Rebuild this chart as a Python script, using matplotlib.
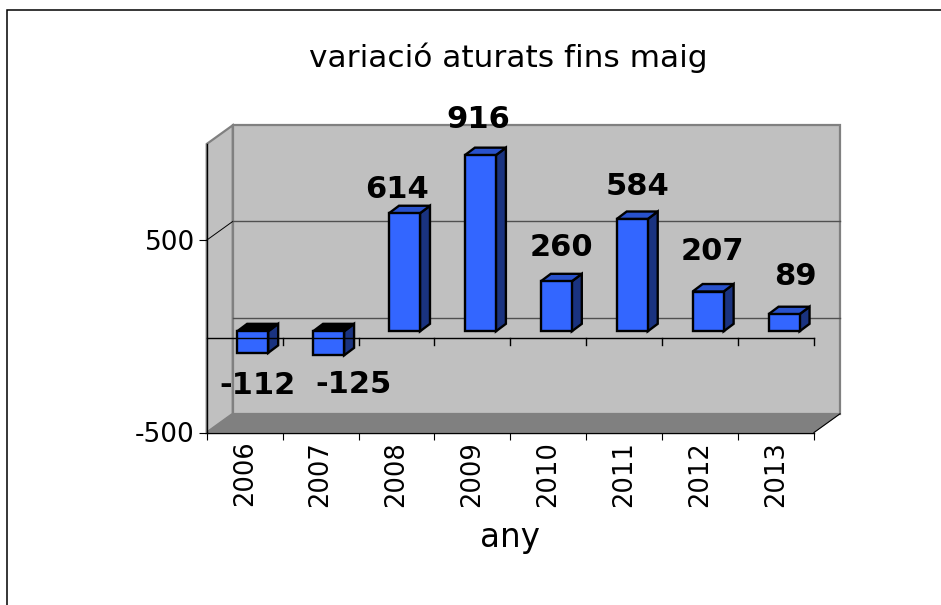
import matplotlib
matplotlib.use("Agg")
import matplotlib.pyplot as plt
from matplotlib.patches import Polygon, Rectangle
from matplotlib.transforms import IdentityTransform
import numpy as np

years = ["2006", "2007", "2008", "2009", "2010", "2011", "2012", "2013"]
values = [-112, -125, 614, 916, 260, 584, 207, 89]
title = "variació aturats fins maig"
xlabel = "any"
yticks = [-500, 500]

# label offsets from the bar end, in pixels (x, up)
label_dx = [-3, 17, -15, -10, -3, -3, -4, 3]
label_dy = [-26, -22, 31, 43, 41, 40, 47, 45]

W, H = 941, 605
fig = plt.figure(figsize=(W / 100, H / 100), dpi=100, facecolor="white")
plt.rcParams["font.family"] = "DejaVu Sans"


def fx(px):
    return px / W


def fy(py):
    return 1 - py / H


ax = fig.add_axes([fx(206.7), fy(432.5), fx(814) - fx(206.7), fy(144) - fy(432.5)])
ax.set_xlim(0, 8)
ax.set_ylim(-500, 1000)
ax.patch.set_visible(False)
fig.canvas.draw()


def project(x, v, dx=0.0, dy=0.0):
    """Data point moved along the depth direction, in pixels (dy up)."""
    px, py = ax.transData.transform((x, v))
    return (px + dx, py + dy)


def poly(points, z, **kw):
    p = Polygon(points, closed=True, transform=IdentityTransform(), clip_on=False, zorder=z, **kw)
    fig.add_artist(p)
    return p


def seg(a, b, z, color="black", lw=1.0):
    ln = plt.Line2D([a[0], b[0]], [a[1], b[1]], transform=IdentityTransform(), color=color, lw=lw, zorder=z)
    fig.add_artist(ln)


# outer chart frame
fig.add_artist(Rectangle((7.2, -20), W + 40, H + 20 - 10, transform=IdentityTransform(),
                         fill=False, ec="black", lw=1.1, zorder=0))

DX, DY = 26, 18.7
WALL, FLOOR, EDGE = "#C0C0C0", "#808080", "#808080"
vmin, vmax = -500, 1000
# back wall, left wall, floor
poly([project(0, vmin, DX, DY), project(8, vmin, DX, DY), project(8, vmax, DX, DY), project(0, vmax, DX, DY)],
     1, fc=WALL, ec=EDGE, lw=1.6)
poly([project(0, vmin), project(0, vmin, DX, DY), project(0, vmax, DX, DY), project(0, vmax)],
     1, fc=WALL, ec=EDGE, lw=1.6)
poly([project(0, vmin), project(8, vmin), project(8, vmin, DX, DY), project(0, vmin, DX, DY)],
     1, fc=FLOOR, ec=FLOOR, lw=0.5)
seg(project(8, vmin), project(8, vmin, DX, DY), 2, "black", 0.8)

# gridlines on the walls
seg(project(0, 500), project(0, 500, DX, DY), 2, "black", 0.7)
for v in [0, 500]:
    seg(project(0, v, DX, DY), project(8, v, DX, DY), 2, "#505050", 1.0)

# bars
BAR_W = 31 / ((814 - 206.7) / 8)
OFF_X, OFF_Y = 8, 5
BDX, BDY = 10, 7.5
FRONT, TOP, SIDE = "#3366FF", "#2952CC", "#1A3380"
for i, v in enumerate(values):
    x0 = i + 0.5 - BAR_W / 2
    x1 = i + 0.5 + BAR_W / 2
    hi, lo = max(v, 0), min(v, 0)
    z = 3
    kw = dict(ec="black", lw=1.7, joinstyle="miter")
    poly([project(x1, lo, OFF_X, OFF_Y), project(x1, lo, OFF_X + BDX, OFF_Y + BDY),
          project(x1, hi, OFF_X + BDX, OFF_Y + BDY), project(x1, hi, OFF_X, OFF_Y)], z, fc=SIDE, **kw)
    poly([project(x0, hi, OFF_X, OFF_Y), project(x1, hi, OFF_X, OFF_Y),
          project(x1, hi, OFF_X + BDX, OFF_Y + BDY), project(x0, hi, OFF_X + BDX, OFF_Y + BDY)],
         z, fc="black" if v < 0 else TOP, **kw)
    poly([project(x0, lo, OFF_X, OFF_Y), project(x1, lo, OFF_X, OFF_Y),
          project(x1, hi, OFF_X, OFF_Y), project(x0, hi, OFF_X, OFF_Y)], z, fc=FRONT, **kw)
    px, py = project(i + 0.5, v, OFF_X, OFF_Y)
    fig.text((px + label_dx[i] + 8) / W, (py + label_dy[i] - 7) / H, str(v), ha="center", va="center",
             fontsize=22, fontweight="bold", color="black", zorder=6)

# zero axis with ticks (sits slightly below the scale's zero line in the 3-D drawing)
ZERO_SHIFT = -1.5
seg(project(0, 0, 0, ZERO_SHIFT), project(8, 0, 0, ZERO_SHIFT), 5, "black", 1.0)
for k in range(1, 9):
    a = project(k, 0, 0, ZERO_SHIFT)
    seg(a, (a[0], a[1] - 7), 5, "black", 1.0)

# real axes
for s in ["top", "right"]:
    ax.spines[s].set_visible(False)
for s in ["left", "bottom"]:
    ax.spines[s].set_linewidth(1.0)
    ax.spines[s].set_zorder(7)
ax.set_zorder(7)
ax.set_yticks(yticks)
ax.set_yticklabels([str(t) for t in yticks], fontsize=19)
ax.set_xticks(range(9))
ax.set_xticklabels([""] * 9)
ax.set_xticks(np.arange(8) + 0.5, labels=years, minor=True, rotation=90, fontsize=18.5)
ax.tick_params(axis="x", which="major", length=5, width=0.8)
ax.tick_params(axis="x", which="minor", length=0, pad=6)
ax.tick_params(axis="y", length=5.5, width=0.8, pad=3)

fig.text(fx(508), fy(58), title, ha="center", va="center", fontsize=22.5)
fig.text(fx(510), fy(538), xlabel, ha="center", va="center", fontsize=23.5)

fig.savefig("out.png", dpi=100)
